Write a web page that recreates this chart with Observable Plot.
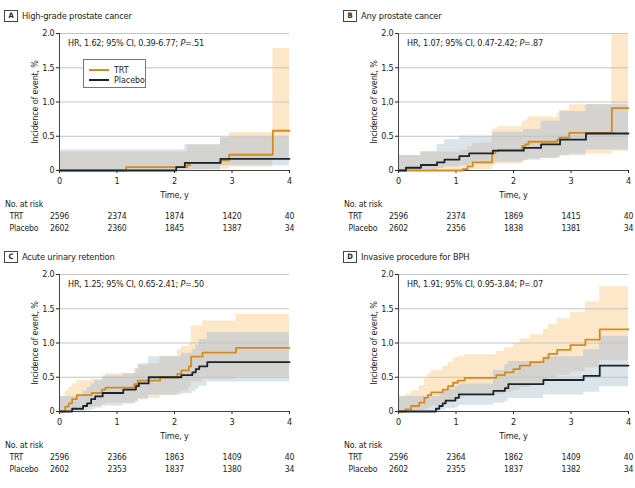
<!DOCTYPE html>
<html><head><meta charset="utf-8">
<script src="https://cdn.jsdelivr.net/npm/d3@7"></script>
<script src="https://cdn.jsdelivr.net/npm/@observablehq/plot@0.6"></script>
<style>
body { margin:0; background:#fff; }
#root { position:relative; width:635px; height:488px; overflow:hidden; color:#222;
  font-family: "DejaVu Sans Condensed", "DejaVu Sans", sans-serif; }
.panel { position:absolute; width:300px; height:241px; }
.title { position:absolute; left:0; top:9px; height:13px; display:flex; align-items:center; font-size:9.3px; letter-spacing:-0.2px; white-space:nowrap; }
.letter { display:inline-block; box-sizing:border-box; width:14px; height:12px; border:1px solid #444; font-weight:bold; font-size:7.5px; letter-spacing:0; text-align:center; line-height:10px; margin-right:4px; }
.km { position:absolute; left:0; top:24px; }
.hr { position:absolute; left:64px; top:37px; font-size:9px; letter-spacing:-0.2px; line-height:12px; white-space:nowrap; }
.riskhead { position:absolute; left:1px; top:198px; font-size:8.8px; letter-spacing:-0.2px; line-height:12px; white-space:nowrap; }
.risk { position:absolute; left:0; top:210px; }
.legend { position:absolute; left:79px; top:59px; width:63px; height:29px; box-sizing:border-box; border:1px solid #777; background:#fff; font-size:8.8px; }
.legend .row { position:absolute; left:5px; height:10px; display:flex; align-items:center; }
.legend .sw { width:20px; height:2px; margin-right:5px; }
</style>
</head><body><div id="root"></div>
<script>
// ---------- data ----------
const xTicks = [0, 1, 2, 3, 4];
const yTicks = [0, 0.5, 1, 1.5, 2];
const panelLetters = ["A", "B", "C", "D"];
const panelTitles = ["High-grade prostate cancer", "Any prostate cancer", "Acute urinary retention", "Invasive procedure for BPH"];
const hrTexts = ["HR, 1.62; 95% CI, 0.39-6.77; ", "HR, 1.07; 95% CI, 0.47-2.42; ", "HR, 1.25; 95% CI, 0.65-2.41; ", "HR, 1.91; 95% CI, 0.95-3.84; "];
const pTexts = ["=.51", "=.87", "=.50", "=.07"];
const seriesNames = ["TRT", "Placebo"];

// A: high-grade prostate cancer
const aTrtTime = [0, 1.16, 2.22, 2.27, 2.80, 2.95, 3.71, 4];
const aTrtEst  = [0, 0.05, 0.08, 0.11, 0.15, 0.23, 0.58, 0.58];
const aTrtLo   = [0, 0, 0, 0.01, 0.02, 0.05, 0.15, 0.15];
const aTrtHi   = [0.27, 0.27, 0.37, 0.37, 0.47, 0.55, 1.78, 1.78];
const aPboTime = [0, 2.03, 2.18, 2.80, 4];
const aPboEst  = [0, 0.05, 0.11, 0.17, 0.17];
const aPboLo   = [0, 0, 0.01, 0.07, 0.07];
const aPboHi   = [0.30, 0.30, 0.38, 0.48, 0.48];
const aRiskTrt = [2596, 2374, 1874, 1420, 40];
const aRiskPbo = [2602, 2360, 1845, 1387, 34];

// B: any prostate cancer
const bTrtTime = [0, 0.39, 1.12, 1.20, 1.29, 1.63, 1.68, 1.73, 2.15, 2.21, 2.26, 2.76, 2.80, 2.97, 3.71, 4];
const bTrtEst  = [0, 0, 0.02, 0.06, 0.12, 0.25, 0.28, 0.30, 0.36, 0.38, 0.42, 0.45, 0.48, 0.55, 0.91, 0.91];
const bTrtLo   = [0, 0, 0, 0, 0.01, 0.07, 0.09, 0.10, 0.14, 0.15, 0.17, 0.19, 0.21, 0.24, 0.28, 0.28];
const bTrtHi   = [0.22, 0.27, 0.30, 0.35, 0.40, 0.60, 0.62, 0.64, 0.72, 0.74, 0.78, 0.84, 0.88, 0.96, 1.98, 1.98];
const bPboTime = [0, 0.13, 0.39, 0.67, 0.80, 1.06, 1.23, 1.64, 2.18, 2.48, 2.81, 3.26, 4];
const bPboEst  = [0, 0.04, 0.08, 0.12, 0.16, 0.21, 0.25, 0.29, 0.33, 0.38, 0.45, 0.54, 0.54];
const bPboLo   = [0, 0, 0.01, 0.03, 0.05, 0.07, 0.09, 0.12, 0.15, 0.18, 0.22, 0.30, 0.30];
const bPboHi   = [0.22, 0.22, 0.27, 0.38, 0.45, 0.50, 0.50, 0.56, 0.60, 0.72, 0.86, 0.96, 0.96];
const bRiskTrt = [2596, 2374, 1869, 1415, 40];
const bRiskPbo = [2602, 2356, 1838, 1381, 34];

// C: acute urinary retention
const cTrtTime = [0, 0.10, 0.16, 0.22, 0.30, 0.56, 0.74, 0.80, 1.30, 1.36, 1.75, 2.05, 2.12, 2.25, 2.29, 2.49, 3.07, 4];
const cTrtEst  = [0, 0.07, 0.12, 0.18, 0.24, 0.27, 0.32, 0.35, 0.40, 0.45, 0.50, 0.55, 0.60, 0.66, 0.80, 0.86, 0.93, 0.93];
const cTrtLo   = [0, 0, 0, 0.02, 0.05, 0.07, 0.10, 0.12, 0.15, 0.19, 0.23, 0.27, 0.30, 0.35, 0.43, 0.47, 0.50, 0.50];
const cTrtHi   = [0.22, 0.30, 0.35, 0.40, 0.45, 0.47, 0.50, 0.55, 0.63, 0.70, 0.80, 0.90, 0.95, 1.00, 1.25, 1.32, 1.42, 1.42];
const cPboTime = [0, 0.22, 0.41, 0.48, 0.55, 0.62, 0.75, 1.11, 1.33, 1.38, 1.55, 2.12, 2.31, 2.37, 2.43, 2.57, 4];
const cPboEst  = [0, 0.04, 0.08, 0.12, 0.18, 0.22, 0.27, 0.32, 0.37, 0.41, 0.50, 0.53, 0.57, 0.62, 0.66, 0.72, 0.72];
const cPboLo   = [0, 0, 0, 0.01, 0.03, 0.05, 0.08, 0.11, 0.14, 0.17, 0.24, 0.26, 0.29, 0.33, 0.37, 0.43, 0.43];
const cPboHi   = [0.22, 0.22, 0.30, 0.35, 0.40, 0.45, 0.52, 0.55, 0.62, 0.68, 0.80, 0.85, 0.90, 0.97, 1.05, 1.15, 1.15];
const cRiskTrt = [2596, 2366, 1863, 1409, 40];
const cRiskPbo = [2602, 2353, 1837, 1380, 34];

// D: invasive procedure for BPH
const dTrtTime = [0, 0.12, 0.22, 0.36, 0.45, 0.51, 0.57, 0.77, 0.86, 0.95, 1.03, 1.15, 1.70, 1.85, 2.00, 2.11, 2.29, 2.52, 2.61, 2.76, 2.99, 3.25, 3.50, 4];
const dTrtEst  = [0, 0.03, 0.08, 0.13, 0.20, 0.24, 0.28, 0.32, 0.37, 0.42, 0.45, 0.49, 0.53, 0.57, 0.62, 0.67, 0.72, 0.78, 0.84, 0.90, 0.97, 1.05, 1.20, 1.20];
const dTrtLo   = [0, 0, 0, 0.01, 0.03, 0.05, 0.08, 0.10, 0.13, 0.17, 0.19, 0.22, 0.25, 0.28, 0.31, 0.35, 0.39, 0.44, 0.48, 0.53, 0.58, 0.64, 0.74, 0.74];
const dTrtHi   = [0.22, 0.25, 0.30, 0.38, 0.48, 0.55, 0.60, 0.66, 0.72, 0.78, 0.80, 0.83, 0.88, 0.93, 1.00, 1.06, 1.12, 1.20, 1.27, 1.35, 1.45, 1.60, 1.82, 1.82];
const dPboTime = [0, 0.65, 0.71, 0.77, 0.82, 0.99, 1.05, 1.65, 1.85, 1.91, 2.52, 3.22, 3.50, 4];
const dPboEst  = [0, 0.04, 0.08, 0.12, 0.16, 0.20, 0.25, 0.30, 0.34, 0.40, 0.46, 0.52, 0.67, 0.67];
const dPboLo   = [0, 0, 0.01, 0.02, 0.04, 0.06, 0.09, 0.12, 0.15, 0.19, 0.24, 0.28, 0.36, 0.36];
const dPboHi   = [0.22, 0.22, 0.25, 0.28, 0.32, 0.36, 0.40, 0.60, 0.68, 0.73, 0.80, 0.90, 1.10, 1.10];
const dRiskTrt = [2596, 2364, 1862, 1409, 40];
const dRiskPbo = [2602, 2355, 1837, 1382, 34];

// ---------- styling ----------
const FONT = '"DejaVu Sans Condensed", "DejaVu Sans", sans-serif';
const TRT_COLOR = "#d98a1c";
const PBO_COLOR = "#18252c";
const TRT_BAND = "#fce7c8";
const PBO_BAND = "#dbe4e8";
const OV_BAND = "#d5d3cf";

function rows(time, est, lo, hi) {
  return time.map((t, i) => ({t, est: est[i], lo: lo[i], hi: hi[i]}));
}
function stepAt(rs, t, key) {
  let v = rs[0][key];
  for (const r of rs) if (r.t <= t) v = r[key];
  return v;
}
function overlap(a, b) {
  const ts = Array.from(new Set([...a.map(r => r.t), ...b.map(r => r.t)])).sort((x, y) => x - y);
  return ts.map(t => {
    const lo = Math.max(stepAt(a, t, "lo"), stepAt(b, t, "lo"));
    const hi = Math.min(stepAt(a, t, "hi"), stepAt(b, t, "hi"));
    return {t, lo, hi: Math.max(lo, hi)};
  });
}

const panels = [
  {i: 0, trt: rows(aTrtTime, aTrtEst, aTrtLo, aTrtHi), pbo: rows(aPboTime, aPboEst, aPboLo, aPboHi), risk: [aRiskTrt, aRiskPbo], left: 4, top: 0, legend: true, pItalic: true},
  {i: 1, trt: rows(bTrtTime, bTrtEst, bTrtLo, bTrtHi), pbo: rows(bPboTime, bPboEst, bPboLo, bPboHi), risk: [bRiskTrt, bRiskPbo], left: 343, top: 0, pItalic: true},
  {i: 2, trt: rows(cTrtTime, cTrtEst, cTrtLo, cTrtHi), pbo: rows(cPboTime, cPboEst, cPboLo, cPboHi), risk: [cRiskTrt, cRiskPbo], left: 4, top: 241, pItalic: true},
  {i: 3, trt: rows(dTrtTime, dTrtEst, dTrtLo, dTrtHi), pbo: rows(dPboTime, dPboEst, dPboLo, dPboHi), risk: [dRiskTrt, dRiskPbo], left: 343, top: 241, pItalic: false}
];

const W = 293, ML = 55, MR = 8;
const fmtY = d => d === 0 ? "0" : d.toFixed(1);

function kmChart(p) {
  const chart = Plot.plot({
    width: W, height: 178, marginLeft: ML, marginRight: MR, marginTop: 9, marginBottom: 32,
    style: {fontFamily: FONT, fontSize: "9px", color: "#222", background: "transparent"},
    x: {domain: [0, 4]},
    y: {domain: [0, 2]},
    marks: [
      Plot.areaY(p.trt, {x: "t", y1: "lo", y2: "hi", curve: "step-after", fill: TRT_BAND}),
      Plot.areaY(p.pbo, {x: "t", y1: "lo", y2: "hi", curve: "step-after", fill: PBO_BAND}),
      Plot.areaY(overlap(p.trt, p.pbo), {x: "t", y1: "lo", y2: "hi", curve: "step-after", fill: OV_BAND}),
      Plot.gridY(yTicks.filter(d => d > 0), {stroke: "#c4c4c4", strokeOpacity: 1, strokeWidth: 1}),
      Plot.axisY(yTicks, {tickSize: 3, tickPadding: 2, tickFormat: fmtY, label: "Incidence of event, %", labelAnchor: "center", labelArrow: "none", labelOffset: 28, className: "yax"}),
      Plot.axisX(xTicks, {tickSize: 3, tickPadding: 4, tickFormat: d => String(d), label: "Time, y", labelAnchor: "center", labelArrow: "none", labelOffset: 27}),
      Plot.ruleX([0], {stroke: "#444"}),
      Plot.ruleY([0], {stroke: "#444"}),
      Plot.line(p.trt, {x: "t", y: "est", curve: "step-after", stroke: TRT_COLOR, strokeWidth: 1.8}),
      Plot.line(p.pbo, {x: "t", y: "est", curve: "step-after", stroke: PBO_COLOR, strokeWidth: 1.8})
    ]
  });
  chart.querySelectorAll("text").forEach(t => t.setAttribute("letter-spacing", "-0.2"));
  return chart;
}

function riskChart(p) {
  const cells = [];
  seriesNames.forEach((s, k) => p.risk[k].forEach((n, j) => cells.push({s, t: xTicks[j], n})));
  const chart = Plot.plot({
    width: W, height: 24, marginLeft: ML, marginRight: MR, marginTop: 6, marginBottom: 6,
    style: {fontFamily: FONT, fontSize: "8.6px", color: "#222", background: "transparent"},
    x: {domain: [0, 4], axis: null},
    y: {type: "point", domain: seriesNames, padding: 0, axis: null},
    marks: [
      Plot.text(cells, {x: "t", y: "s", text: d => String(d.n), fill: "#222"}),
      Plot.text(seriesNames, {y: d => d, text: d => d, frameAnchor: "left", textAnchor: "start", dx: -ML + 5, fill: "#222"})
    ]
  });
  chart.querySelectorAll("text").forEach(t => t.setAttribute("letter-spacing", "-0.2"));
  return chart;
}

const root = document.getElementById("root");
for (const p of panels) {
  const div = document.createElement("div");
  div.className = "panel";
  div.style.left = p.left + "px";
  div.style.top = p.top + "px";

  const title = document.createElement("div");
  title.className = "title";
  const letter = document.createElement("span");
  letter.className = "letter";
  letter.textContent = panelLetters[p.i];
  title.appendChild(letter);
  title.appendChild(document.createTextNode(panelTitles[p.i]));
  div.appendChild(title);

  const km = kmChart(p);
  km.classList.add("km");
  div.appendChild(km);

  const hr = document.createElement("div");
  hr.className = "hr";
  hr.appendChild(document.createTextNode(hrTexts[p.i]));
  const pe = document.createElement(p.pItalic ? "i" : "span");
  pe.textContent = "P";
  hr.appendChild(pe);
  hr.appendChild(document.createTextNode(pTexts[p.i]));
  div.appendChild(hr);

  if (p.legend) {
    const lg = document.createElement("div");
    lg.className = "legend";
    seriesNames.forEach((s, k) => {
      const r = document.createElement("div");
      r.className = "row";
      r.style.top = (5 + k * 10) + "px";
      const sw = document.createElement("span");
      sw.className = "sw";
      sw.style.background = k === 0 ? TRT_COLOR : PBO_COLOR;
      r.appendChild(sw);
      r.appendChild(document.createTextNode(s));
      lg.appendChild(r);
    });
    div.appendChild(lg);
  }

  const rh = document.createElement("div");
  rh.className = "riskhead";
  rh.textContent = "No. at risk";
  div.appendChild(rh);

  const rk = riskChart(p);
  rk.classList.add("risk");
  div.appendChild(rk);

  root.appendChild(div);
}
</script>
</body></html>
